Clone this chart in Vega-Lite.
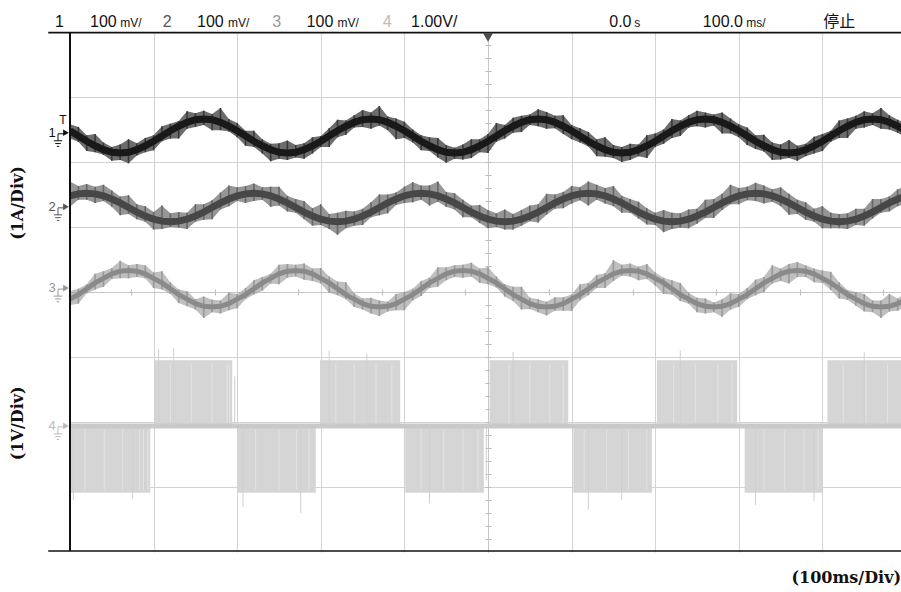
{
"$schema":"https://vega.github.io/schema/vega-lite/v6.json",
"width":831,"height":520,
"autosize":{"type":"none"},
"padding":{"left":70,"top":32,"right":0,"bottom":40},
"background":"white",
"config":{"view":{"stroke":null},"axis":{"labels":false,"title":null,"ticks":false,"domain":false,"grid":false}},
"resolve":{"axis":{"x":"independent","y":"independent"}},
"datasets":{
"w":[
{"x":0,"c1":2.48,"h1":2.58,"l1":2.36,"c2":1.48,"h2":1.70,"l2":1.31,"c3":-0.11,"h3":0.01,"l3":-0.20},
{"x":0.1,"c1":2.40,"h1":2.54,"l1":2.31,"c2":1.51,"h2":1.63,"l2":1.42,"c3":-0.04,"h3":0.05,"l3":-0.18},
{"x":0.2,"c1":2.32,"h1":2.41,"l1":2.17,"c2":1.52,"h2":1.66,"l2":1.42,"c3":0.05,"h3":0.12,"l3":-0.02},
{"x":0.3,"c1":2.25,"h1":2.43,"l1":2.15,"c2":1.51,"h2":1.62,"l2":1.37,"c3":0.14,"h3":0.28,"l3":0.04},
{"x":0.4,"c1":2.19,"h1":2.30,"l1":2.11,"c2":1.48,"h2":1.65,"l2":1.40,"c3":0.21,"h3":0.32,"l3":0.08},
{"x":0.5,"c1":2.15,"h1":2.23,"l1":2.02,"c2":1.43,"h2":1.56,"l2":1.31,"c3":0.28,"h3":0.37,"l3":0.20},
{"x":0.6,"c1":2.14,"h1":2.27,"l1":2.03,"c2":1.37,"h2":1.47,"l2":1.18,"c3":0.32,"h3":0.48,"l3":0.21},
{"x":0.7,"c1":2.15,"h1":2.35,"l1":1.98,"c2":1.30,"h2":1.49,"l2":1.20,"c3":0.33,"h3":0.41,"l3":0.21},
{"x":0.8,"c1":2.19,"h1":2.29,"l1":2.10,"c2":1.23,"h2":1.35,"l2":1.12,"c3":0.32,"h3":0.43,"l3":0.23},
{"x":0.9,"c1":2.25,"h1":2.37,"l1":2.15,"c2":1.17,"h2":1.32,"l2":1.08,"c3":0.28,"h3":0.41,"l3":0.21},
{"x":1.0,"c1":2.32,"h1":2.41,"l1":2.18,"c2":1.12,"h2":1.23,"l2":0.96,"c3":0.21,"h3":0.30,"l3":0.06},
{"x":1.1,"c1":2.40,"h1":2.55,"l1":2.32,"c2":1.09,"h2":1.33,"l2":0.97,"c3":0.14,"h3":0.32,"l3":0.04},
{"x":1.2,"c1":2.48,"h1":2.59,"l1":2.36,"c2":1.08,"h2":1.21,"l2":1.00,"c3":0.05,"h3":0.15,"l3":-0.03},
{"x":1.3,"c1":2.55,"h1":2.63,"l1":2.36,"c2":1.09,"h2":1.23,"l2":0.99,"c3":-0.04,"h3":0.04,"l3":-0.17},
{"x":1.4,"c1":2.61,"h1":2.78,"l1":2.51,"c2":1.12,"h2":1.22,"l2":0.97,"c3":-0.11,"h3":0.01,"l3":-0.22},
{"x":1.5,"c1":2.65,"h1":2.75,"l1":2.54,"c2":1.17,"h2":1.35,"l2":1.08,"c3":-0.18,"h3":-0.11,"l3":-0.27},
{"x":1.6,"c1":2.66,"h1":2.79,"l1":2.57,"c2":1.23,"h2":1.35,"l2":1.11,"c3":-0.22,"h3":-0.07,"l3":-0.40},
{"x":1.7,"c1":2.65,"h1":2.74,"l1":2.49,"c2":1.30,"h2":1.41,"l2":1.12,"c3":-0.23,"h3":-0.12,"l3":-0.31},
{"x":1.8,"c1":2.61,"h1":2.83,"l1":2.49,"c2":1.37,"h2":1.53,"l2":1.27,"c3":-0.22,"h3":-0.13,"l3":-0.33},
{"x":1.9,"c1":2.55,"h1":2.66,"l1":2.47,"c2":1.43,"h2":1.64,"l2":1.32,"c3":-0.18,"h3":-0.01,"l3":-0.28},
{"x":2.0,"c1":2.48,"h1":2.60,"l1":2.38,"c2":1.48,"h2":1.61,"l2":1.40,"c3":-0.11,"h3":-0.03,"l3":-0.25},
{"x":2.1,"c1":2.40,"h1":2.48,"l1":2.25,"c2":1.51,"h2":1.63,"l2":1.37,"c3":-0.04,"h3":0.06,"l3":-0.11},
{"x":2.2,"c1":2.32,"h1":2.48,"l1":2.23,"c2":1.52,"h2":1.67,"l2":1.40,"c3":0.05,"h3":0.18,"l3":-0.04},
{"x":2.3,"c1":2.25,"h1":2.35,"l1":2.13,"c2":1.51,"h2":1.61,"l2":1.42,"c3":0.14,"h3":0.23,"l3":0.02},
{"x":2.4,"c1":2.19,"h1":2.28,"l1":2.01,"c2":1.48,"h2":1.62,"l2":1.31,"c3":0.21,"h3":0.28,"l3":0.13},
{"x":2.5,"c1":2.15,"h1":2.29,"l1":2.05,"c2":1.43,"h2":1.62,"l2":1.33,"c3":0.28,"h3":0.42,"l3":0.12},
{"x":2.6,"c1":2.14,"h1":2.33,"l1":2.03,"c2":1.37,"h2":1.48,"l2":1.24,"c3":0.32,"h3":0.43,"l3":0.22},
{"x":2.7,"c1":2.15,"h1":2.26,"l1":2.07,"c2":1.30,"h2":1.43,"l2":1.22,"c3":0.33,"h3":0.42,"l3":0.24},
{"x":2.8,"c1":2.19,"h1":2.29,"l1":2.05,"c2":1.23,"h2":1.40,"l2":1.12,"c3":0.32,"h3":0.44,"l3":0.19},
{"x":2.9,"c1":2.25,"h1":2.38,"l1":2.13,"c2":1.17,"h2":1.29,"l2":1.02,"c3":0.28,"h3":0.36,"l3":0.17},
{"x":3.0,"c1":2.32,"h1":2.40,"l1":2.23,"c2":1.12,"h2":1.35,"l2":1.03,"c3":0.21,"h3":0.37,"l3":0.13},
{"x":3.1,"c1":2.40,"h1":2.52,"l1":2.23,"c2":1.09,"h2":1.20,"l2":0.97,"c3":0.14,"h3":0.24,"l3":-0.01},
{"x":3.2,"c1":2.48,"h1":2.65,"l1":2.38,"c2":1.08,"h2":1.22,"l2":0.88,"c3":0.05,"h3":0.16,"l3":-0.05},
{"x":3.3,"c1":2.55,"h1":2.64,"l1":2.42,"c2":1.09,"h2":1.25,"l2":0.98,"c3":-0.04,"h3":0.15,"l3":-0.11},
{"x":3.4,"c1":2.61,"h1":2.72,"l1":2.53,"c2":1.12,"h2":1.24,"l2":1.02,"c3":-0.11,"h3":-0.02,"l3":-0.23},
{"x":3.5,"c1":2.65,"h1":2.80,"l1":2.54,"c2":1.17,"h2":1.28,"l2":1.03,"c3":-0.18,"h3":-0.10,"l3":-0.27},
{"x":3.6,"c1":2.66,"h1":2.76,"l1":2.51,"c2":1.23,"h2":1.38,"l2":1.15,"c3":-0.22,"h3":-0.09,"l3":-0.33},
{"x":3.7,"c1":2.65,"h1":2.86,"l1":2.56,"c2":1.30,"h2":1.50,"l2":1.18,"c3":-0.23,"h3":-0.13,"l3":-0.37},
{"x":3.8,"c1":2.61,"h1":2.70,"l1":2.49,"c2":1.37,"h2":1.50,"l2":1.21,"c3":-0.22,"h3":-0.15,"l3":-0.30},
{"x":3.9,"c1":2.55,"h1":2.67,"l1":2.35,"c2":1.43,"h2":1.53,"l2":1.34,"c3":-0.18,"h3":-0.03,"l3":-0.28},
{"x":4.0,"c1":2.48,"h1":2.62,"l1":2.37,"c2":1.48,"h2":1.62,"l2":1.37,"c3":-0.11,"h3":0.00,"l3":-0.28},
{"x":4.1,"c1":2.40,"h1":2.50,"l1":2.30,"c2":1.51,"h2":1.69,"l2":1.38,"c3":-0.04,"h3":0.05,"l3":-0.13},
{"x":4.2,"c1":2.32,"h1":2.41,"l1":2.18,"c2":1.52,"h2":1.64,"l2":1.42,"c3":0.05,"h3":0.17,"l3":-0.06},
{"x":4.3,"c1":2.25,"h1":2.38,"l1":2.17,"c2":1.51,"h2":1.64,"l2":1.33,"c3":0.14,"h3":0.22,"l3":0.06},
{"x":4.4,"c1":2.19,"h1":2.37,"l1":2.07,"c2":1.48,"h2":1.70,"l2":1.39,"c3":0.21,"h3":0.38,"l3":0.08},
{"x":4.5,"c1":2.15,"h1":2.26,"l1":1.99,"c2":1.43,"h2":1.54,"l2":1.31,"c3":0.28,"h3":0.38,"l3":0.18},
{"x":4.6,"c1":2.14,"h1":2.22,"l1":2.05,"c2":1.37,"h2":1.52,"l2":1.27,"c3":0.32,"h3":0.41,"l3":0.23},
{"x":4.7,"c1":2.15,"h1":2.27,"l1":2.04,"c2":1.30,"h2":1.42,"l2":1.15,"c3":0.33,"h3":0.42,"l3":0.22},
{"x":4.8,"c1":2.19,"h1":2.35,"l1":2.06,"c2":1.23,"h2":1.33,"l2":1.15,"c3":0.32,"h3":0.45,"l3":0.24},
{"x":4.9,"c1":2.25,"h1":2.35,"l1":2.15,"c2":1.17,"h2":1.34,"l2":1.06,"c3":0.28,"h3":0.36,"l3":0.14},
{"x":5.0,"c1":2.32,"h1":2.43,"l1":2.14,"c2":1.12,"h2":1.26,"l2":0.98,"c3":0.21,"h3":0.38,"l3":0.12},
{"x":5.1,"c1":2.40,"h1":2.60,"l1":2.31,"c2":1.09,"h2":1.21,"l2":1.00,"c3":0.14,"h3":0.24,"l3":0.07},
{"x":5.2,"c1":2.48,"h1":2.57,"l1":2.36,"c2":1.08,"h2":1.27,"l2":0.96,"c3":0.05,"h3":0.12,"l3":-0.07},
{"x":5.3,"c1":2.55,"h1":2.68,"l1":2.45,"c2":1.09,"h2":1.20,"l2":0.96,"c3":-0.04,"h3":0.08,"l3":-0.14},
{"x":5.4,"c1":2.61,"h1":2.71,"l1":2.46,"c2":1.12,"h2":1.26,"l2":1.02,"c3":-0.11,"h3":0.08,"l3":-0.27},
{"x":5.5,"c1":2.65,"h1":2.73,"l1":2.57,"c2":1.17,"h2":1.33,"l2":1.09,"c3":-0.18,"h3":-0.09,"l3":-0.26},
{"x":5.6,"c1":2.66,"h1":2.81,"l1":2.55,"c2":1.23,"h2":1.35,"l2":1.07,"c3":-0.22,"h3":-0.11,"l3":-0.31},
{"x":5.7,"c1":2.65,"h1":2.77,"l1":2.51,"c2":1.30,"h2":1.51,"l2":1.19,"c3":-0.23,"h3":-0.15,"l3":-0.36},
{"x":5.8,"c1":2.61,"h1":2.71,"l1":2.52,"c2":1.37,"h2":1.50,"l2":1.28,"c3":-0.22,"h3":-0.08,"l3":-0.29},
{"x":5.9,"c1":2.55,"h1":2.72,"l1":2.43,"c2":1.43,"h2":1.54,"l2":1.29,"c3":-0.18,"h3":-0.08,"l3":-0.29},
{"x":6.0,"c1":2.48,"h1":2.57,"l1":2.35,"c2":1.48,"h2":1.63,"l2":1.36,"c3":-0.11,"h3":-0.04,"l3":-0.29},
{"x":6.1,"c1":2.40,"h1":2.52,"l1":2.30,"c2":1.51,"h2":1.61,"l2":1.41,"c3":-0.04,"h3":0.12,"l3":-0.13},
{"x":6.2,"c1":2.32,"h1":2.46,"l1":2.24,"c2":1.52,"h2":1.70,"l2":1.33,"c3":0.05,"h3":0.14,"l3":-0.05},
{"x":6.3,"c1":2.25,"h1":2.35,"l1":2.09,"c2":1.51,"h2":1.65,"l2":1.42,"c3":0.14,"h3":0.26,"l3":0.06},
{"x":6.4,"c1":2.19,"h1":2.38,"l1":2.08,"c2":1.48,"h2":1.60,"l2":1.36,"c3":0.21,"h3":0.29,"l3":0.06},
{"x":6.5,"c1":2.15,"h1":2.26,"l1":2.06,"c2":1.43,"h2":1.63,"l2":1.32,"c3":0.28,"h3":0.49,"l3":0.17},
{"x":6.6,"c1":2.14,"h1":2.23,"l1":2.00,"c2":1.37,"h2":1.48,"l2":1.22,"c3":0.32,"h3":0.42,"l3":0.25},
{"x":6.7,"c1":2.15,"h1":2.28,"l1":2.03,"c2":1.30,"h2":1.43,"l2":1.22,"c3":0.33,"h3":0.44,"l3":0.24},
{"x":6.8,"c1":2.19,"h1":2.27,"l1":2.09,"c2":1.23,"h2":1.39,"l2":1.13,"c3":0.32,"h3":0.39,"l3":0.18},
{"x":6.9,"c1":2.25,"h1":2.41,"l1":2.06,"c2":1.17,"h2":1.29,"l2":1.04,"c3":0.28,"h3":0.43,"l3":0.20},
{"x":7.0,"c1":2.32,"h1":2.44,"l1":2.23,"c2":1.12,"h2":1.22,"l2":1.03,"c3":0.21,"h3":0.30,"l3":0.10},
{"x":7.1,"c1":2.40,"h1":2.50,"l1":2.28,"c2":1.09,"h2":1.26,"l2":0.92,"c3":0.14,"h3":0.22,"l3":-0.03},
{"x":7.2,"c1":2.48,"h1":2.66,"l1":2.37,"c2":1.08,"h2":1.22,"l2":0.97,"c3":0.05,"h3":0.18,"l3":-0.04},
{"x":7.3,"c1":2.55,"h1":2.64,"l1":2.40,"c2":1.09,"h2":1.21,"l2":0.99,"c3":-0.04,"h3":0.14,"l3":-0.14},
{"x":7.4,"c1":2.61,"h1":2.72,"l1":2.53,"c2":1.12,"h2":1.27,"l2":0.98,"c3":-0.11,"h3":-0.01,"l3":-0.18},
{"x":7.5,"c1":2.65,"h1":2.79,"l1":2.55,"c2":1.17,"h2":1.28,"l2":1.05,"c3":-0.18,"h3":-0.09,"l3":-0.31},
{"x":7.6,"c1":2.66,"h1":2.76,"l1":2.53,"c2":1.23,"h2":1.42,"l2":1.14,"c3":-0.22,"h3":-0.10,"l3":-0.33},
{"x":7.7,"c1":2.65,"h1":2.73,"l1":2.56,"c2":1.30,"h2":1.43,"l2":1.14,"c3":-0.23,"h3":-0.16,"l3":-0.31},
{"x":7.8,"c1":2.61,"h1":2.76,"l1":2.44,"c2":1.37,"h2":1.51,"l2":1.26,"c3":-0.22,"h3":-0.11,"l3":-0.38},
{"x":7.9,"c1":2.55,"h1":2.67,"l1":2.44,"c2":1.43,"h2":1.65,"l2":1.35,"c3":-0.18,"h3":-0.02,"l3":-0.27},
{"x":8.0,"c1":2.48,"h1":2.58,"l1":2.38,"c2":1.48,"h2":1.60,"l2":1.35,"c3":-0.11,"h3":-0.03,"l3":-0.23},
{"x":8.1,"c1":2.40,"h1":2.53,"l1":2.26,"c2":1.51,"h2":1.62,"l2":1.41,"c3":-0.04,"h3":0.06,"l3":-0.11},
{"x":8.2,"c1":2.32,"h1":2.41,"l1":2.20,"c2":1.52,"h2":1.68,"l2":1.40,"c3":0.05,"h3":0.19,"l3":-0.05},
{"x":8.3,"c1":2.25,"h1":2.42,"l1":2.16,"c2":1.51,"h2":1.64,"l2":1.36,"c3":0.14,"h3":0.23,"l3":0.00},
{"x":8.4,"c1":2.19,"h1":2.30,"l1":2.03,"c2":1.48,"h2":1.58,"l2":1.39,"c3":0.21,"h3":0.41,"l3":0.13},
{"x":8.5,"c1":2.15,"h1":2.27,"l1":2.04,"c2":1.43,"h2":1.61,"l2":1.32,"c3":0.28,"h3":0.36,"l3":0.17},
{"x":8.6,"c1":2.14,"h1":2.34,"l1":2.06,"c2":1.37,"h2":1.51,"l2":1.19,"c3":0.32,"h3":0.43,"l3":0.13},
{"x":8.7,"c1":2.15,"h1":2.25,"l1":2.02,"c2":1.30,"h2":1.42,"l2":1.20,"c3":0.33,"h3":0.46,"l3":0.23},
{"x":8.8,"c1":2.19,"h1":2.28,"l1":2.09,"c2":1.23,"h2":1.38,"l2":1.11,"c3":0.32,"h3":0.41,"l3":0.23},
{"x":8.9,"c1":2.25,"h1":2.39,"l1":2.13,"c2":1.17,"h2":1.28,"l2":1.08,"c3":0.28,"h3":0.36,"l3":0.15},
{"x":9.0,"c1":2.32,"h1":2.43,"l1":2.17,"c2":1.12,"h2":1.32,"l2":0.98,"c3":0.21,"h3":0.33,"l3":0.14},
{"x":9.1,"c1":2.40,"h1":2.48,"l1":2.31,"c2":1.09,"h2":1.22,"l2":0.98,"c3":0.14,"h3":0.31,"l3":0.03},
{"x":9.2,"c1":2.48,"h1":2.64,"l1":2.37,"c2":1.08,"h2":1.20,"l2":0.98,"c3":0.05,"h3":0.15,"l3":-0.10},
{"x":9.3,"c1":2.55,"h1":2.67,"l1":2.37,"c2":1.09,"h2":1.21,"l2":0.97,"c3":-0.04,"h3":0.03,"l3":-0.12},
{"x":9.4,"c1":2.61,"h1":2.71,"l1":2.51,"c2":1.12,"h2":1.28,"l2":1.03,"c3":-0.11,"h3":0.00,"l3":-0.21},
{"x":9.5,"c1":2.65,"h1":2.78,"l1":2.53,"c2":1.17,"h2":1.28,"l2":1.02,"c3":-0.18,"h3":-0.03,"l3":-0.30},
{"x":9.6,"c1":2.66,"h1":2.75,"l1":2.57,"c2":1.23,"h2":1.43,"l2":1.13,"c3":-0.22,"h3":-0.13,"l3":-0.31},
{"x":9.7,"c1":2.65,"h1":2.83,"l1":2.51,"c2":1.30,"h2":1.43,"l2":1.22,"c3":-0.23,"h3":-0.13,"l3":-0.40},
{"x":9.8,"c1":2.61,"h1":2.72,"l1":2.50,"c2":1.37,"h2":1.47,"l2":1.24,"c3":-0.22,"h3":-0.03,"l3":-0.30},
{"x":9.9,"c1":2.55,"h1":2.65,"l1":2.45,"c2":1.43,"h2":1.58,"l2":1.32,"c3":-0.18,"h3":-0.10,"l3":-0.29},
{"x":10.0,"c1":2.48,"h1":2.59,"l1":2.37,"c2":1.48,"h2":1.63,"l2":1.36,"c3":-0.11,"h3":-0.01,"l3":-0.22}
],
"blk":[
{"a":0,"b":0.96,"t":-2.06,"u":-3.09},
{"a":1.01,"b":1.94,"t":-1.05,"u":-2.06},
{"a":2.01,"b":2.94,"t":-2.06,"u":-3.09},
{"a":2.99,"b":3.95,"t":-1.05,"u":-2.06},
{"a":4.01,"b":4.95,"t":-2.06,"u":-3.09},
{"a":5.02,"b":5.96,"t":-1.05,"u":-2.06},
{"a":6.02,"b":6.96,"t":-2.06,"u":-3.09},
{"a":7.02,"b":7.98,"t":-1.05,"u":-2.06},
{"a":8.07,"b":9.0,"t":-2.06,"u":-3.09},
{"a":9.06,"b":10,"t":-1.05,"u":-2.06}
],
"gap":[
{"x":0.18,"y1":-2.12,"y2":-3.04},{"x":0.41,"y1":-2.12,"y2":-3.04},{"x":0.63,"y1":-2.12,"y2":-3.04},{"x":0.83,"y1":-2.12,"y2":-3.04},{"x":0.88,"y1":-2.12,"y2":-3.04},{"x":0.93,"y1":-2.12,"y2":-3.04},
{"x":1.2,"y1":-1.1,"y2":-2.01},{"x":1.45,"y1":-1.1,"y2":-2.01},{"x":1.7,"y1":-1.1,"y2":-2.01},{"x":1.88,"y1":-1.1,"y2":-2.01},{"x":1.91,"y1":-1.1,"y2":-2.01},
{"x":2.22,"y1":-2.12,"y2":-3.04},{"x":2.5,"y1":-2.12,"y2":-3.04},{"x":2.71,"y1":-2.12,"y2":-3.04},{"x":2.86,"y1":-2.12,"y2":-3.04},
{"x":3.18,"y1":-1.1,"y2":-2.01},{"x":3.4,"y1":-1.1,"y2":-2.01},{"x":3.66,"y1":-1.1,"y2":-2.01},{"x":3.85,"y1":-1.1,"y2":-2.01},
{"x":4.2,"y1":-2.12,"y2":-3.04},{"x":4.47,"y1":-2.12,"y2":-3.04},{"x":4.7,"y1":-2.12,"y2":-3.04},{"x":4.88,"y1":-2.12,"y2":-3.04},
{"x":5.25,"y1":-1.1,"y2":-2.01},{"x":5.5,"y1":-1.1,"y2":-2.01},{"x":5.74,"y1":-1.1,"y2":-2.01},{"x":5.9,"y1":-1.1,"y2":-2.01},
{"x":6.15,"y1":-2.12,"y2":-3.04},{"x":6.42,"y1":-2.12,"y2":-3.04},{"x":6.68,"y1":-2.12,"y2":-3.04},{"x":6.9,"y1":-2.12,"y2":-3.04},
{"x":7.22,"y1":-1.1,"y2":-2.01},{"x":7.48,"y1":-1.1,"y2":-2.01},{"x":7.75,"y1":-1.1,"y2":-2.01},{"x":7.92,"y1":-1.1,"y2":-2.01},
{"x":8.3,"y1":-2.12,"y2":-3.04},{"x":8.55,"y1":-2.12,"y2":-3.04},{"x":8.78,"y1":-2.12,"y2":-3.04},{"x":8.95,"y1":-2.12,"y2":-3.04},
{"x":9.25,"y1":-1.1,"y2":-2.01},{"x":9.52,"y1":-1.1,"y2":-2.01},{"x":9.78,"y1":-1.1,"y2":-2.01}
],
"base":[{"x":0,"x2":10,"y":-2.06}],
"spk":[
{"x":0.04,"y1":-2.06,"y2":-3.2},
{"x":0.75,"y1":-2.06,"y2":-3.18},
{"x":0.9,"y1":-2.06,"y2":-3.02},
{"x":1.06,"y1":-2.06,"y2":-0.88},
{"x":1.24,"y1":-2.06,"y2":-0.86},
{"x":1.97,"y1":-2.06,"y2":-1.3},
{"x":2.07,"y1":-2.06,"y2":-3.31},
{"x":2.76,"y1":-2.06,"y2":-3.4},
{"x":3.1,"y1":-2.06,"y2":-0.9},
{"x":3.55,"y1":-2.06,"y2":-0.95},
{"x":4.3,"y1":-2.06,"y2":-3.25},
{"x":4.98,"y1":-2.06,"y2":-2.9},
{"x":5.3,"y1":-2.06,"y2":-0.92},
{"x":6.2,"y1":-2.06,"y2":-3.35},
{"x":6.6,"y1":-2.06,"y2":-3.2},
{"x":7.3,"y1":-2.06,"y2":-0.9},
{"x":8.2,"y1":-2.06,"y2":-3.28},
{"x":8.9,"y1":-2.06,"y2":-3.22},
{"x":9.5,"y1":-2.06,"y2":-0.92}
],
"hb":[{"x":-0.26,"x2":10,"y":3.99},{"x":-0.26,"x2":10,"y":-3.985}],
"mk":[{"y":2.45,"g":"k","t":"1"},{"y":1.31,"g":"c2","t":"2"},{"y":0.06,"g":"c3","t":"3"},{"y":-2.06,"g":"c4","t":"4"}],
"hdrBig":[{"x":-0.18,"t":"1","g":"k"},{"x":0.24,"t":"100","g":"k"},{"x":1.11,"t":"2","g":"c2"},{"x":1.52,"t":"100","g":"k"},{"x":2.42,"t":"3","g":"c3"},{"x":2.83,"t":"100","g":"k"},{"x":3.74,"t":"4","g":"c4"},{"x":4.08,"t":"1.00V/","g":"k"},{"x":6.45,"t":"0.0","g":"k"},{"x":7.57,"t":"100.0","g":"k"},{"x":9.01,"t":"停止","g":"k"}],
"hdrSmall":[{"x":0.6,"t":"mV/"},{"x":1.89,"t":"mV/"},{"x":3.2,"t":"mV/"},{"x":6.75,"t":"s"},{"x":8.09,"t":"ms/"}],
"ylab":[{"x":-0.62,"y":1.37,"t":"(1A/Div)"},{"x":-0.62,"y":-2.02,"t":"(1V/Div)"}],
"xlab":[{"x":9.94,"y":-4.4,"t":"(100ms/Div)"}]
},
"layer":[
{"data":{"name":"blk"},"mark":{"type":"rect","color":"#d5d5d5","clip":true},
 "encoding":{
  "x":{"field":"a","type":"quantitative","scale":{"domain":[0,9.94],"nice":false,"zero":false},"axis":{"orient":"bottom","grid":true,"values":[1,2,3,4,5,6,7,8,9],"gridColor":"#d3d3d3","gridWidth":1,"labels":false,"ticks":false,"domain":false}},
  "x2":{"field":"b"},
  "y":{"field":"t","type":"quantitative","scale":{"domain":[-4,4],"nice":false,"zero":false},"axis":{"orient":"left","grid":true,"values":[-3,-2,-1,0,1,2,3],"gridColor":"#d3d3d3","gridWidth":1,"labels":false,"ticks":false,"domain":false}},
  "y2":{"field":"u"}}},
{"data":{"name":"gap"},"mark":{"type":"rule","color":"#e3e3e3","strokeWidth":1,"clip":true},
 "encoding":{"x":{"field":"x","type":"quantitative","scale":{"domain":[0,9.94],"nice":false,"zero":false},"axis":null},
  "y":{"field":"y1","type":"quantitative","scale":{"domain":[-4,4],"nice":false,"zero":false},"axis":null},"y2":{"field":"y2"}}},
{"data":{"name":"base"},"mark":{"type":"rule","color":"#c9c9c9","strokeWidth":5,"clip":true},
 "encoding":{
  "x":{"field":"x","type":"quantitative","scale":{"domain":[0,9.94],"nice":false,"zero":false},"axis":{"orient":"bottom","offset":-260,"grid":false,"labels":false,"domain":true,"domainColor":"#c6c6c6","domainWidth":1,"ticks":true,"tickColor":"#bdbdbd","tickSize":3,"values":[0.73,1.73,2.73,3.73,4.73,5.73,6.73,7.73,8.73,9.73]}},
  "x2":{"field":"x2"},
  "y":{"field":"y","type":"quantitative","scale":{"domain":[-4,4],"nice":false,"zero":false},"axis":{"orient":"left","offset":-418,"grid":false,"labels":false,"domain":true,"domainColor":"#c6c6c6","domainWidth":1,"ticks":true,"tickColor":"#bdbdbd","tickSize":3,"values":[-3.8,-3.6,-3.4,-3.2,-3,-2.8,-2.6,-2.4,-2.2,-2,-1.8,-1.6,-1.4,-1.2,-1,-0.8,-0.6,-0.4,-0.2,0.2,0.4,0.6,0.8,1,1.2,1.4,1.6,1.8,2,2.2,2.4,2.6,2.8,3,3.2,3.4,3.6,3.8]}}}},
{"data":{"name":"spk"},"mark":{"type":"rule","color":"#cfcfcf","strokeWidth":1,"clip":true},
 "encoding":{
  "x":{"field":"x","type":"quantitative","scale":{"domain":[0,9.94],"nice":false,"zero":false},"axis":{"orient":"top","offset":-260,"grid":false,"labels":false,"domain":false,"ticks":true,"tickColor":"#bdbdbd","tickSize":3,"values":[0.73,1.73,2.73,3.73,4.73,5.73,6.73,7.73,8.73,9.73]}},
  "y":{"field":"y1","type":"quantitative","scale":{"domain":[-4,4],"nice":false,"zero":false},"axis":{"orient":"right","offset":-413,"grid":false,"labels":false,"domain":false,"ticks":true,"tickColor":"#bdbdbd","tickSize":3,"values":[-3.8,-3.6,-3.4,-3.2,-3,-2.8,-2.6,-2.4,-2.2,-2,-1.8,-1.6,-1.4,-1.2,-1,-0.8,-0.6,-0.4,-0.2,0.2,0.4,0.6,0.8,1,1.2,1.4,1.6,1.8,2,2.2,2.4,2.6,2.8,3,3.2,3.4,3.6,3.8]}},
  "y2":{"field":"y2"}}},
{"data":{"name":"w"},"mark":{"type":"area","color":"#9c9c9c","opacity":0.65,"clip":true},
 "encoding":{"x":{"field":"x","type":"quantitative","scale":{"domain":[0,9.94],"nice":false,"zero":false},"axis":null},
  "y":{"field":"l3","type":"quantitative","scale":{"domain":[-4,4],"nice":false,"zero":false},"axis":null},"y2":{"field":"h3"}}},
{"data":{"name":"w"},"mark":{"type":"rule","color":"#999999","strokeWidth":1.6,"clip":true},
 "encoding":{"x":{"field":"x","type":"quantitative","scale":{"domain":[0,9.94],"nice":false,"zero":false},"axis":null},
  "y":{"field":"l3","type":"quantitative","scale":{"domain":[-4,4],"nice":false,"zero":false},"axis":null},"y2":{"field":"h3"}}},
{"data":{"name":"w"},"mark":{"type":"line","color":"#8a8a8a","strokeWidth":5,"clip":true},
 "encoding":{"x":{"field":"x","type":"quantitative","scale":{"domain":[0,9.94],"nice":false,"zero":false},"axis":null},
  "y":{"field":"c3","type":"quantitative","scale":{"domain":[-4,4],"nice":false,"zero":false},"axis":null}}},
{"data":{"name":"w"},"mark":{"type":"area","color":"#6e6e6e","opacity":0.72,"clip":true},
 "encoding":{"x":{"field":"x","type":"quantitative","scale":{"domain":[0,9.94],"nice":false,"zero":false},"axis":null},
  "y":{"field":"l2","type":"quantitative","scale":{"domain":[-4,4],"nice":false,"zero":false},"axis":null},"y2":{"field":"h2"}}},
{"data":{"name":"w"},"mark":{"type":"rule","color":"#666666","strokeWidth":1.6,"clip":true},
 "encoding":{"x":{"field":"x","type":"quantitative","scale":{"domain":[0,9.94],"nice":false,"zero":false},"axis":null},
  "y":{"field":"l2","type":"quantitative","scale":{"domain":[-4,4],"nice":false,"zero":false},"axis":null},"y2":{"field":"h2"}}},
{"data":{"name":"w"},"mark":{"type":"line","color":"#474747","strokeWidth":7,"clip":true},
 "encoding":{"x":{"field":"x","type":"quantitative","scale":{"domain":[0,9.94],"nice":false,"zero":false},"axis":null},
  "y":{"field":"c2","type":"quantitative","scale":{"domain":[-4,4],"nice":false,"zero":false},"axis":null}}},
{"data":{"name":"w"},"mark":{"type":"area","color":"#444444","opacity":0.78,"clip":true},
 "encoding":{"x":{"field":"x","type":"quantitative","scale":{"domain":[0,9.94],"nice":false,"zero":false},"axis":null},
  "y":{"field":"l1","type":"quantitative","scale":{"domain":[-4,4],"nice":false,"zero":false},"axis":null},"y2":{"field":"h1"}}},
{"data":{"name":"w"},"mark":{"type":"rule","color":"#383838","strokeWidth":1.6,"clip":true},
 "encoding":{"x":{"field":"x","type":"quantitative","scale":{"domain":[0,9.94],"nice":false,"zero":false},"axis":null},
  "y":{"field":"l1","type":"quantitative","scale":{"domain":[-4,4],"nice":false,"zero":false},"axis":null},"y2":{"field":"h1"}}},
{"data":{"name":"w"},"mark":{"type":"line","color":"#191919","strokeWidth":7,"clip":true},
 "encoding":{"x":{"field":"x","type":"quantitative","scale":{"domain":[0,9.94],"nice":false,"zero":false},"axis":null},
  "y":{"field":"c1","type":"quantitative","scale":{"domain":[-4,4],"nice":false,"zero":false},"axis":null}}},
{"data":{"name":"hb"},"mark":{"type":"rule","color":"#111111","strokeWidth":1.6,"clip":false},
 "encoding":{"x":{"field":"x","type":"quantitative","scale":{"domain":[0,9.94],"nice":false,"zero":false},"axis":null},"x2":{"field":"x2"},
  "y":{"field":"y","type":"quantitative","scale":{"domain":[-4,4],"nice":false,"zero":false},"axis":null}}},
{"data":{"values":[{"x":0,"y":-3.985,"y2":3.99}]},"mark":{"type":"rule","color":"#111111","strokeWidth":2,"clip":false},
 "encoding":{"x":{"field":"x","type":"quantitative","scale":{"domain":[0,9.94],"nice":false,"zero":false},"axis":null},
  "y":{"field":"y","type":"quantitative","scale":{"domain":[-4,4],"nice":false,"zero":false},"axis":null},"y2":{"field":"y2"}}},
{"data":{"values":[{"x":5,"y":3.92}]},"mark":{"type":"point","shape":"triangle-down","filled":true,"size":110,"color":"#4d4d4d","opacity":1,"clip":false},
 "encoding":{"x":{"field":"x","type":"quantitative","scale":{"domain":[0,9.94],"nice":false,"zero":false},"axis":null},
  "y":{"field":"y","type":"quantitative","scale":{"domain":[-4,4],"nice":false,"zero":false},"axis":null}}},
{"data":{"name":"mk"},"mark":{"type":"text","font":"Liberation Sans","fontSize":13,"align":"center","baseline":"middle","xOffset":-18,"clip":false},
 "encoding":{"x":{"datum":0,"type":"quantitative","scale":{"domain":[0,9.94],"nice":false,"zero":false},"axis":null},
  "y":{"field":"y","type":"quantitative","scale":{"domain":[-4,4],"nice":false,"zero":false},"axis":null},
  "text":{"field":"t"},
  "color":{"field":"g","type":"nominal","scale":{"domain":["k","c2","c3","c4"],"range":["#111111","#555555","#999999","#bbbbbb"]},"legend":null}}},
{"data":{"name":"mk"},"mark":{"type":"point","shape":"triangle-right","filled":true,"size":45,"opacity":1,"xOffset":-4,"clip":false},
 "encoding":{"x":{"datum":0,"type":"quantitative","scale":{"domain":[0,9.94],"nice":false,"zero":false},"axis":null},
  "y":{"field":"y","type":"quantitative","scale":{"domain":[-4,4],"nice":false,"zero":false},"axis":null},
  "color":{"field":"g","type":"nominal","scale":{"domain":["k","c2","c3","c4"],"range":["#111111","#555555","#999999","#bbbbbb"]},"legend":null}}},
{"data":{"name":"mk"},"mark":{"type":"point","shape":"M0,-1L0,0M-0.6,0L0.6,0M-0.4,0.4L0.4,0.4M-0.17,0.8L0.17,0.8M0,-1L0.85,-1","filled":false,"size":196,"strokeWidth":1,"opacity":1,"xOffset":-12,"yOffset":8,"clip":false},
 "encoding":{"x":{"datum":0,"type":"quantitative","scale":{"domain":[0,9.94],"nice":false,"zero":false},"axis":null},
  "y":{"field":"y","type":"quantitative","scale":{"domain":[-4,4],"nice":false,"zero":false},"axis":null},
  "color":{"field":"g","type":"nominal","scale":{"domain":["k","c2","c3","c4"],"range":["#111111","#555555","#999999","#bbbbbb"]},"legend":null}}},
{"data":{"values":[{"x":0,"y":2.65,"t":"T"}]},"mark":{"type":"text","font":"Liberation Sans","fontSize":12,"align":"center","baseline":"middle","xOffset":-7,"color":"#111111","clip":false},
 "encoding":{"x":{"field":"x","type":"quantitative","scale":{"domain":[0,9.94],"nice":false,"zero":false},"axis":null},
  "y":{"field":"y","type":"quantitative","scale":{"domain":[-4,4],"nice":false,"zero":false},"axis":null},"text":{"field":"t"}}},
{"data":{"name":"hdrBig"},"mark":{"type":"text","font":"Liberation Sans, Noto Sans CJK SC","fontSize":16,"align":"left","baseline":"alphabetic","clip":false},
 "encoding":{"x":{"field":"x","type":"quantitative","scale":{"domain":[0,9.94],"nice":false,"zero":false},"axis":null},
  "y":{"datum":4.08,"type":"quantitative","scale":{"domain":[-4,4],"nice":false,"zero":false},"axis":null},
  "text":{"field":"t"},
  "color":{"field":"g","type":"nominal","scale":{"domain":["k","c2","c3","c4"],"range":["#111111","#555555","#999999","#bbbbbb"]},"legend":null}}},
{"data":{"name":"hdrSmall"},"mark":{"type":"text","font":"Liberation Sans","fontSize":12,"align":"left","baseline":"alphabetic","color":"#111111","clip":false},
 "encoding":{"x":{"field":"x","type":"quantitative","scale":{"domain":[0,9.94],"nice":false,"zero":false},"axis":null},
  "y":{"datum":4.08,"type":"quantitative","scale":{"domain":[-4,4],"nice":false,"zero":false},"axis":null},
  "text":{"field":"t"}}},
{"data":{"name":"ylab"},"mark":{"type":"text","font":"DejaVu Serif","fontWeight":"bold","fontSize":16,"angle":270,"align":"center","baseline":"middle","color":"#111111","clip":false},
 "encoding":{"x":{"field":"x","type":"quantitative","scale":{"domain":[0,9.94],"nice":false,"zero":false},"axis":null},
  "y":{"field":"y","type":"quantitative","scale":{"domain":[-4,4],"nice":false,"zero":false},"axis":null},"text":{"field":"t"}}},
{"data":{"name":"xlab"},"mark":{"type":"text","font":"DejaVu Serif","fontWeight":"bold","fontSize":16,"align":"right","baseline":"middle","color":"#111111","clip":false},
 "encoding":{"x":{"field":"x","type":"quantitative","scale":{"domain":[0,9.94],"nice":false,"zero":false},"axis":null},
  "y":{"field":"y","type":"quantitative","scale":{"domain":[-4,4],"nice":false,"zero":false},"axis":null},"text":{"field":"t"}}}
]
}
